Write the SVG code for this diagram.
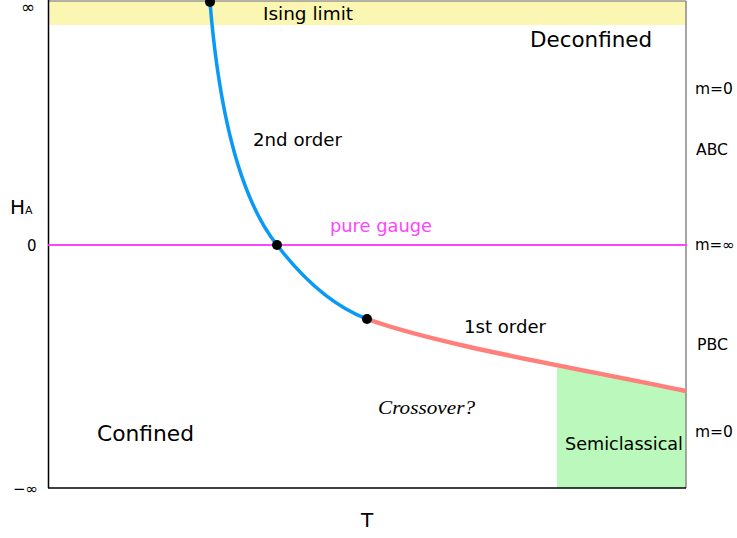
<svg xmlns="http://www.w3.org/2000/svg" width="737" height="538" viewBox="0 0 737 538">
<style>
.t{font-family:"DejaVu Sans","Liberation Sans",sans-serif;fill:#000}
.s17{font-size:17px}
.s15{font-size:15px}
.s21{font-size:21px}
.dot{fill:#000}
</style>
<rect width="737" height="538" fill="#fff"/>
<g id="regions">
  <rect id="ising-band" x="48" y="1" width="638" height="24" fill="#fbf7b3"/>
  <path id="semiclassical-region" d="M557,367.5 L620,378.5 L686,391 L686,488 L557,488 Z" fill="#bbf8bb"/>
</g>
<g id="axes" fill="none">
  <line x1="48" y1="1" x2="686" y2="1" stroke="#666" stroke-width="1"/>
  <line x1="686" y1="1" x2="686" y2="488" stroke="#888" stroke-width="1.5"/>
  <line x1="48.5" y1="0" x2="48.5" y2="488" stroke="#000" stroke-width="1.5"/>
  <line x1="48" y1="488" x2="686" y2="488" stroke="#000" stroke-width="1.5"/>
</g>
<g id="connectors" fill="none" stroke-linecap="round">
  <line id="pure-gauge-line" x1="49" y1="245" x2="686" y2="245" stroke="#ff44ff" stroke-width="2"/>
  <path id="second-order" d="M210,2 C219,112 239,197 277,245 C300,275 330,305 367,319" stroke="#0a9af5" stroke-width="3.5"/>
  <path id="first-order" d="M367,319 C440,345 560,365 686,391" stroke="#ff7f7a" stroke-width="4.5" stroke-linecap="butt"/>
</g>
<g id="points">
  <circle id="p-top" class="dot" cx="210" cy="2" r="5"/>
  <circle id="p-mid" class="dot" cx="277" cy="245" r="5"/>
  <circle id="p-tri" class="dot" cx="367" cy="319" r="5"/>
</g>
<g id="labels">
  <text class="t s17" x="21" y="13">∞</text>
  <text class="t s17" x="263" y="20" textLength="90" lengthAdjust="spacingAndGlyphs">Ising limit</text>
  <text class="t s21" x="530" y="47" textLength="122" lengthAdjust="spacingAndGlyphs">Deconfined</text>
  <text class="t s17" x="253" y="146" textLength="89" lengthAdjust="spacingAndGlyphs">2nd order</text>
  <text class="t s17" x="330" y="232" textLength="102" lengthAdjust="spacingAndGlyphs" style="fill:#ff44ff">pure gauge</text>
  <text class="t s17" x="464" y="333" textLength="82" lengthAdjust="spacingAndGlyphs">1st order</text>
  <text x="378" y="414" textLength="97" lengthAdjust="spacingAndGlyphs" style="font-family:'Liberation Serif','DejaVu Serif',serif;font-style:italic;font-size:19px;fill:#000">Crossover?</text>
  <text class="t s21" x="97" y="441" textLength="97" lengthAdjust="spacingAndGlyphs">Confined</text>
  <text class="t s17" x="565" y="450" textLength="118" lengthAdjust="spacingAndGlyphs">Semiclassical</text>
  <text class="t" x="361" y="527" style="font-size:20px">T</text>
  <text class="t" x="10" y="214" style="font-size:20px">H<tspan style="font-size:11px">A</tspan></text>
  <text class="t s15" x="27" y="251">0</text>
  <text class="t s15" x="13" y="494">−∞</text>
  <text class="t s15" x="695" y="94" textLength="38" lengthAdjust="spacingAndGlyphs">m=0</text>
  <text class="t s15" x="696" y="155" textLength="32" lengthAdjust="spacingAndGlyphs">ABC</text>
  <text class="t s15" x="695" y="250">m=∞</text>
  <text class="t s15" x="697" y="350" textLength="31" lengthAdjust="spacingAndGlyphs">PBC</text>
  <text class="t s15" x="695" y="437" textLength="38" lengthAdjust="spacingAndGlyphs">m=0</text>
</g>
</svg>
